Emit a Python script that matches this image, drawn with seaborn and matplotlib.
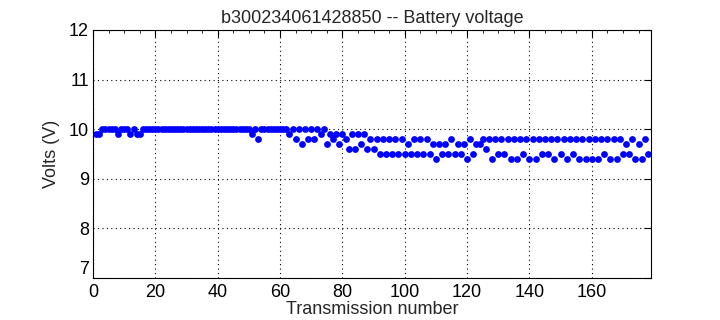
import numpy as np
import pandas as pd
import matplotlib
matplotlib.use("Agg")
import matplotlib.pyplot as plt
from matplotlib.ticker import MultipleLocator
import seaborn as sns

title = "b300234061428850 -- Battery voltage"
x_label = "Transmission number"
y_label = "Volts (V)"

transmission = list(range(1, 179))
volts = (
    [9.9, 9.9, 10.0, 10.0, 10.0, 10.0, 10.0, 9.9, 10.0, 10.0,      # 1-10
     10.0, 9.9, 10.0, 9.9, 9.9, 10.0, 10.0, 10.0, 10.0, 10.0]      # 11-20
    + [10.0] * 30                                                  # 21-50
    + [9.9, 10.0, 9.8, 10.0, 10.0, 10.0, 10.0, 10.0, 10.0, 10.0,   # 51-60
       10.0, 10.0, 9.9, 10.0, 9.8, 10.0, 9.7, 10.0, 9.8, 10.0,     # 61-70
       9.8, 10.0, 9.9, 10.0, 9.7, 9.9, 9.8, 9.9, 9.7, 9.9,         # 71-80
       9.8, 9.6, 9.9, 9.6, 9.9, 9.7, 9.9, 9.6, 9.8, 9.6,           # 81-90
       9.8, 9.5, 9.8, 9.5, 9.8, 9.5, 9.8, 9.5, 9.8, 9.5,           # 91-100
       9.7, 9.5, 9.8, 9.5, 9.8, 9.5, 9.8, 9.5, 9.7, 9.4,           # 101-110
       9.7, 9.5, 9.7, 9.5, 9.8, 9.5, 9.7, 9.5, 9.7, 9.4,           # 111-120
       9.8, 9.5, 9.7, 9.7, 9.8, 9.6, 9.8, 9.4, 9.8, 9.5,           # 121-130
       9.8, 9.5, 9.8, 9.4, 9.8, 9.4, 9.8, 9.5, 9.8, 9.4,           # 131-140
       9.8, 9.4, 9.8, 9.5, 9.8, 9.5, 9.8, 9.4, 9.8, 9.5,           # 141-150
       9.8, 9.4, 9.8, 9.5, 9.8, 9.4, 9.8, 9.4, 9.8, 9.4,           # 151-160
       9.8, 9.4, 9.8, 9.5, 9.8, 9.4, 9.8, 9.4, 9.8, 9.5,           # 161-170
       9.7, 9.5, 9.8, 9.4, 9.7, 9.4, 9.8, 9.5]                     # 171-178
)

x_ticks = [0, 20, 40, 60, 80, 100, 120, 140, 160]
y_ticks = [7, 8, 9, 10, 11, 12]

df = pd.DataFrame({"n": transmission, "v": volts})

sns.set_style("white")
plt.rcParams["font.family"] = ["Liberation Sans", "DejaVu Sans"]
plt.rcParams["font.size"] = 13

fig = plt.figure(figsize=(7.2, 3.2), dpi=100)
ax = fig.add_axes([93 / 720, 1 - 278 / 320, (651 - 93) / 720, (278 - 30) / 320])

sns.scatterplot(data=df, x="n", y="v", ax=ax, color="#0000ff", s=24,
                linewidth=0, marker="o", clip_on=True)

ax.set_xlim(0, 179)
ax.set_ylim(7, 12)
ax.set_xticks(x_ticks)
ax.set_yticks(y_ticks)
ax.set_xticklabels([str(t) for t in x_ticks])
ax.set_yticklabels([str(t) for t in y_ticks])
ax.xaxis.set_minor_locator(MultipleLocator(5))
ax.tick_params(which="both", direction="in", top=True, right=True,
               colors="black", labelsize=13)
ax.tick_params(axis="y", pad=3)
ax.tick_params(axis="x", pad=4)
ax.tick_params(which="major", length=5, width=0.8)
ax.tick_params(which="minor", length=2.5, width=0.6)
ax.get_yticklabels()[0].set_verticalalignment("bottom")
ax.grid(True, which="major", color="black", linestyle=(0, (1, 3)), linewidth=0.8)
for sp in ax.spines.values():
    sp.set_color("black")
    sp.set_linewidth(0.8)

ax.set_xlabel(x_label, fontsize=13, labelpad=0)
ax.set_ylabel(y_label, fontsize=13, labelpad=6)
ax.set_title(title, fontsize=13, pad=5)

fig.savefig("out.png", dpi=100, facecolor="white")
